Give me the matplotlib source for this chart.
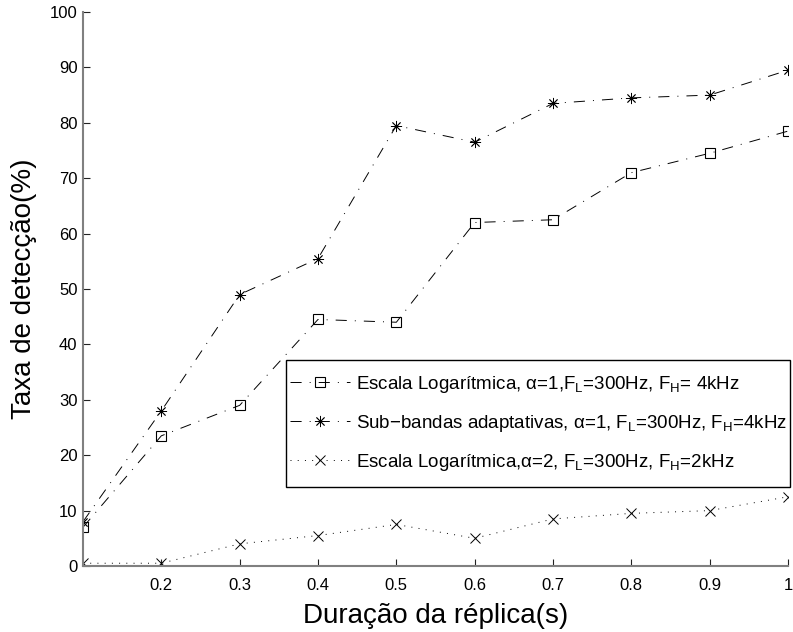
import numpy as np
import matplotlib
matplotlib.use('Agg')
import matplotlib.pyplot as plt
from matplotlib.patches import Rectangle

plt.rcParams['font.family'] = ['Liberation Sans', 'DejaVu Sans']
plt.rcParams['mathtext.fontset'] = 'custom'
plt.rcParams['mathtext.rm'] = 'Liberation Sans'
plt.rcParams['mathtext.it'] = 'Liberation Sans'
plt.rcParams['lines.scale_dashes'] = False

# data
duracao = [0.1, 0.2, 0.3, 0.4, 0.5, 0.6, 0.7, 0.8, 0.9, 1.0]
log_a1 = [7, 23.5, 29, 44.5, 44, 62, 62.5, 71, 74.5, 78.5]
subbandas = [8, 28, 49, 55.5, 79.5, 76.5, 83.5, 84.5, 85, 89.5]
log_a2 = [0.5, 0.5, 4, 5.5, 7.5, 5, 8.5, 9.5, 10, 12.5]

labels = [r'Escala Logarítmica, $\alpha$=1,F$_{\rm L}$=300Hz, F$_{\rm H}$= 4kHz',
          r'Sub$-$bandas adaptativas, $\alpha$=1, F$_{\rm L}$=300Hz, F$_{\rm H}$=4kHz',
          r'Escala Logarítmica,$\alpha$=2, F$_{\rm L}$=300Hz, F$_{\rm H}$=2kHz']
xticks = [0.2, 0.3, 0.4, 0.5, 0.6, 0.7, 0.8, 0.9, 1.0]
xticklabels = ['0.2', '0.3', '0.4', '0.5', '0.6', '0.7', '0.8', '0.9', '1']
yticks = np.arange(0, 101, 10)

fig = plt.figure(figsize=(7.93, 6.32), dpi=100)
ax = fig.add_axes([83 / 793, 66 / 632, 705 / 793, 554 / 632])

dashdot = (0, (8, 5.8, 0.7, 5.8))
dotted = (0, (0.7, 4.5))
asterisk = (8, 2, 0)

ax.plot(duracao, log_a1, color='black', lw=0.7, linestyle=dashdot,
        marker='s', ms=7, mfc='none', mec='black', mew=0.8, label=labels[0])
ax.plot(duracao, subbandas, color='black', lw=0.7, linestyle=dashdot,
        marker=asterisk, ms=8, mec='black', mew=0.6, label=labels[1])
ax.plot(duracao, log_a2, color='black', lw=0.7, linestyle=dotted,
        marker='x', ms=7, mec='black', mew=0.7, label=labels[2])

ax.set_xlim(0.1, 1.0)
ax.set_ylim(0, 100)
ax.set_xticks(xticks)
ax.set_xticklabels(xticklabels)
ax.set_yticks(yticks)

for side in ['top', 'right']:
    ax.spines[side].set_visible(False)
for side in ['left', 'bottom']:
    ax.spines[side].set_color('#808080')
    ax.spines[side].set_linewidth(1.5)

ax.tick_params(axis='both', direction='in', length=5, width=0.8, colors='#222222',
               labelsize=12, labelcolor='black')
ax.tick_params(axis='x', pad=9)
ax.tick_params(axis='y', pad=4)

ax.set_xlabel('Duração da réplica(s)', fontsize=20, labelpad=7)
ax.set_ylabel('Taxa de detecção(%)', fontsize=20, labelpad=9)

# legend frame drawn by hand (MATLAB-like padding)
frame = Rectangle((0.288, 0.143), 0.715, 0.229, transform=ax.transAxes,
                  facecolor='white', edgecolor='black', lw=1.0, clip_on=False, zorder=4.9)
ax.add_patch(frame)
leg = ax.legend(loc='center left', bbox_to_anchor=(0.294, 0.2575), borderaxespad=0,
                fontsize=13.5, handlelength=3.2, handletextpad=0.3, labelspacing=0.95,
                borderpad=0, frameon=False)
leg.set_zorder(5)

fig.savefig('out.png', dpi=100)
